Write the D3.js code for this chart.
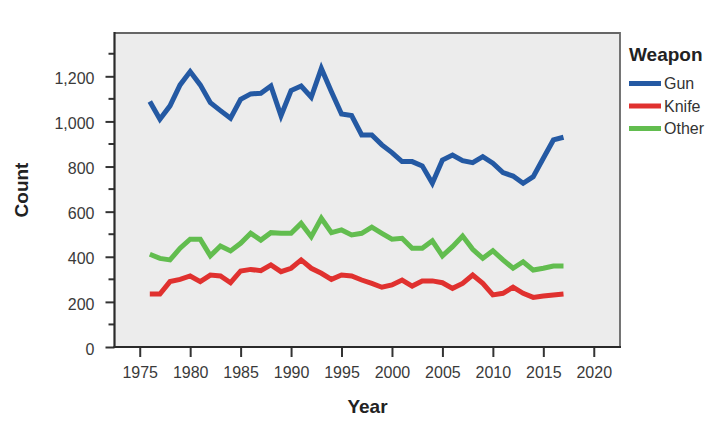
<!DOCTYPE html>
<html><head><meta charset="utf-8">
<script src="https://cdn.jsdelivr.net/npm/d3@7"></script>
<style>body{margin:0;background:#fff;font-family:"Liberation Sans",Arial,sans-serif;}</style>
</head><body><svg id="c" width="720" height="435"></svg>
<script>
const years = d3.range(1976, 2018);
const gun = [1088,1010,1069,1162,1221,1162,1083,1048,1014,1098,1122,1125,1157,1025,1137,1157,1107,1235,1132,1033,1026,940,940,896,862,822,822,803,726,829,851,826,817,844,815,773,758,726,755,837,918,930];
const knife = [235,235,290,300,315,290,319,315,285,337,344,338,364,334,349,386,349,327,300,319,315,297,282,265,275,297,270,293,293,285,260,282,319,282,231,238,265,238,220,226,231,235];
const other = [411,393,386,438,478,478,404,448,426,460,504,474,507,504,504,548,489,571,507,519,497,504,531,504,478,482,438,438,471,404,445,492,433,393,427,386,349,378,341,349,359,359];
const seriesNames = ["Gun","Knife","Other"];
const seriesColors = ["#2459a3","#e0312f","#62bd4f"];
const xTicks = [1975,1980,1985,1990,1995,2000,2005,2010,2015,2020];
const yTicks = [0,200,400,600,800,1000,1200];

const svg = d3.select("#c");
const L=114.5, R=620, T=33, B=347;
const x = d3.scaleLinear().domain([1972.5,2022.6]).range([L,R]);
const y = d3.scaleLinear().domain([0,1392]).range([B,T]);

svg.append("rect").attr("x",L).attr("y",T).attr("width",R-L).attr("height",B-T).attr("fill","#ececec");
svg.append("path").attr("d",`M${L},${T}H${R}V${B}`).attr("fill","none").attr("stroke","#666").attr("stroke-width",1.8);

const data = [gun,knife,other];
const line = d3.line().x((d,i)=>x(years[i])).y(d=>y(d));
data.forEach((s,k)=>{
  svg.append("path").datum(s).attr("d",line).attr("fill","none")
    .attr("stroke",seriesColors[k]).attr("stroke-width",5).attr("stroke-linejoin","miter").attr("stroke-miterlimit",3);
});

// y axis
const yAxis = d3.axisLeft(y).tickValues(yTicks).tickFormat(d3.format(",")).tickSize(9).tickPadding(11);
const gy = svg.append("g").attr("transform",`translate(${L},0)`).call(yAxis);
gy.selectAll(".tick line").attr("stroke","#333").attr("stroke-width",2);
gy.select(".domain").remove();
const minor = d3.range(100,1400,200);
gy.selectAll(".minor").data(minor).enter().append("line").attr("x1",-6).attr("x2",0)
  .attr("y1",d=>y(d)).attr("y2",d=>y(d)).attr("stroke","#333").attr("stroke-width",2);
gy.selectAll("text").attr("font-size",16).attr("fill","#3a3a3a").attr("font-family","Liberation Sans, Arial, sans-serif").attr("dy","0.45em");

// x axis
const xAxis = d3.axisBottom(x).tickValues(xTicks).tickFormat(d3.format("d")).tickSize(10).tickPadding(10);
const gx = svg.append("g").attr("transform",`translate(0,${B})`).call(xAxis);
gx.selectAll(".tick line").attr("stroke","#333").attr("stroke-width",2);
gx.select(".domain").remove();
gx.selectAll("text").attr("font-size",16).attr("fill","#3a3a3a").attr("font-family","Liberation Sans, Arial, sans-serif");

svg.append("line").attr("x1",L).attr("x2",L).attr("y1",T-1).attr("y2",B+1).attr("stroke","#2a2a2a").attr("stroke-width",2.2);
svg.append("line").attr("x1",L-1).attr("x2",R+1).attr("y1",B).attr("y2",B).attr("stroke","#2a2a2a").attr("stroke-width",2.2);

// axis titles
svg.append("text").attr("x",367.5).attr("y",413).attr("text-anchor","middle").attr("font-weight","bold").attr("font-size",19).attr("fill","#222").text("Year");
svg.append("text").attr("transform","translate(28,190) rotate(-90)").attr("text-anchor","middle").attr("font-weight","bold").attr("font-size",19).attr("fill","#222").text("Count");

// legend
svg.append("text").attr("x",629).attr("y",61).attr("font-weight","bold").attr("font-size",19).attr("fill","#222").text("Weapon");
const lg = svg.selectAll(".lg").data(seriesNames).enter().append("g").attr("transform",(d,i)=>`translate(629,${83.5+i*22.5})`);
lg.append("line").attr("x1",0).attr("x2",32).attr("stroke",(d,i)=>seriesColors[i]).attr("stroke-width",5);
lg.append("text").attr("x",35).attr("y",0).attr("dy","0.36em").attr("font-size",16).attr("fill","#333").text(d=>d);
</script></body></html>
